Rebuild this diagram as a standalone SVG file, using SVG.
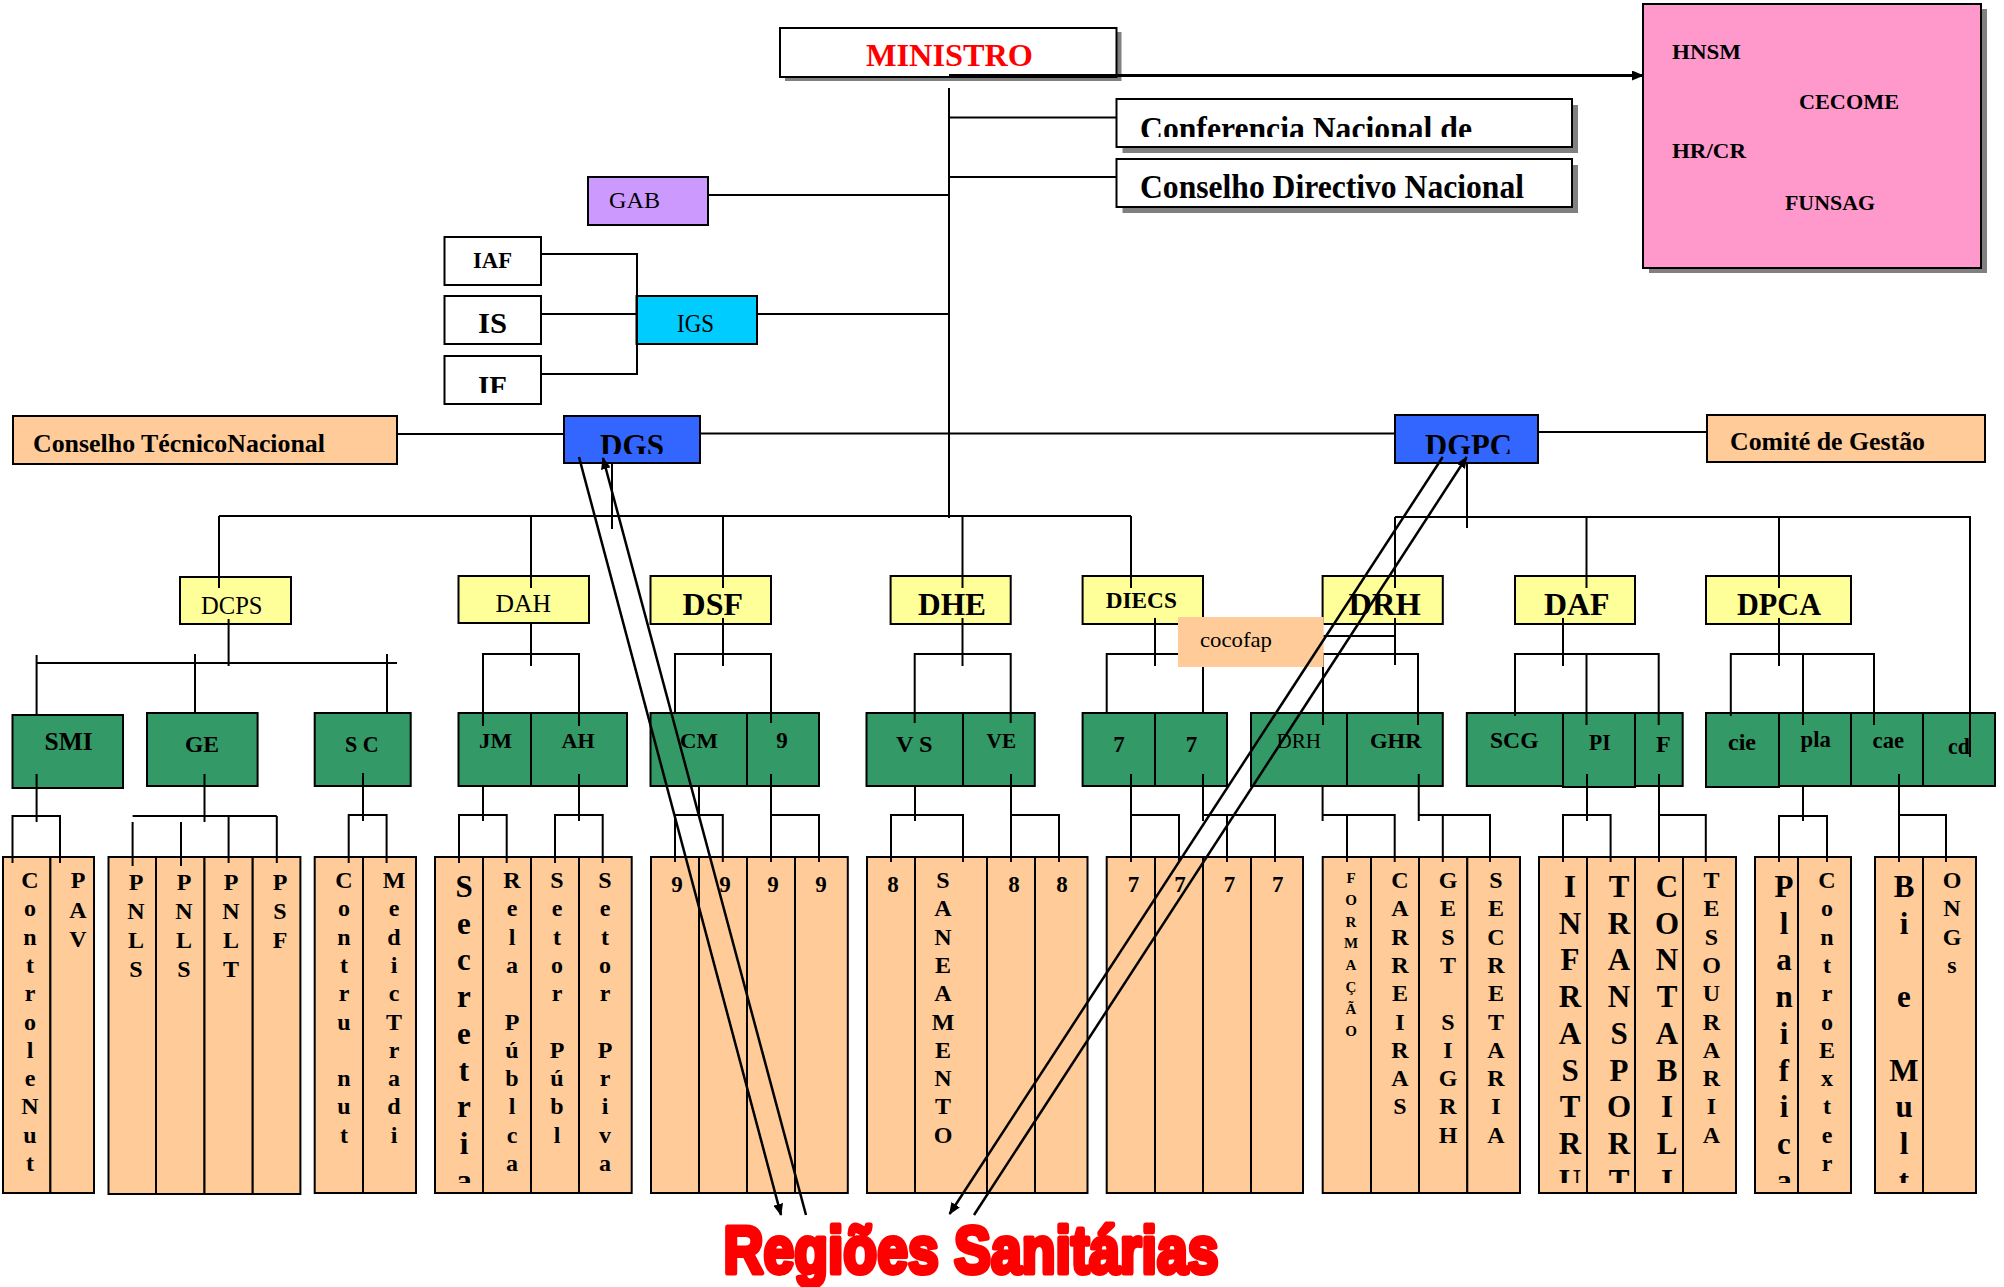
<svg xmlns="http://www.w3.org/2000/svg" width="2004" height="1287" viewBox="0 0 2004 1287">
<style>
.b{stroke:#000;stroke-width:2}
.w{fill:#fff}.y{fill:#FFFF99}.g{fill:#339966}.o{fill:#FFCC99}.bl{fill:#3366FF}
.sh{fill:#808080}
.ln{stroke:#000;stroke-width:2;fill:none}
.ar{stroke:#000;stroke-width:2.5;fill:none}
text{font-family:"Liberation Serif","Times New Roman",serif;font-weight:bold;fill:#000}
.n{font-weight:normal}
.v{font-size:24px;text-anchor:middle}
.vb{font-size:31px;text-anchor:middle}
.vs{font-size:15px;text-anchor:middle}
.d{font-size:23px;text-anchor:middle}
</style>
<defs>
<marker id="ah" markerWidth="12" markerHeight="10" refX="11" refY="5" orient="auto" markerUnits="userSpaceOnUse"><path d="M0,0 L12,5 L0,10 z" fill="#000"/></marker>
<clipPath id="cc"><rect x="0" y="857" width="2004" height="326"/></clipPath>
<clipPath id="cconf"><rect x="1116" y="99" width="460" height="38"/></clipPath>
<clipPath id="ctop"><rect x="500" y="380" width="1100" height="74"/></clipPath>
<clipPath id="cif"><rect x="440" y="356" width="110" height="37"/></clipPath>
</defs>

<g id="ministro"><rect class="sh" x="785" y="32" width="336.5" height="49"/><rect class="b w" x="780" y="28" width="336.5" height="49"/><text x="866" y="66" font-size="32" fill="#FF0000" style="fill:#FF0000" textLength="167" lengthAdjust="spacingAndGlyphs">MINISTRO</text></g>
<g id="conferencia"><rect class="sh" x="1122.5" y="105" width="455.5" height="48"/><rect class="b w" x="1116.5" y="99" width="455.5" height="48"/><text x="1140" y="139.5" font-size="33" clip-path="url(#cconf)" textLength="332" lengthAdjust="spacingAndGlyphs">Conferencia  Nacional de</text></g>
<g id="conselho-directivo"><rect class="sh" x="1122.5" y="165" width="455.5" height="48"/><rect class="b w" x="1116.5" y="159" width="455.5" height="48"/><text x="1140" y="198" font-size="33" textLength="384" lengthAdjust="spacingAndGlyphs">Conselho Directivo Nacional</text></g>
<g id="hospitais"><rect class="sh" x="1649" y="9" width="338" height="264"/><rect class="b" fill="#FF99CC" x="1643" y="4" width="338" height="264"/><text x="1672" y="59" font-size="22" textLength="69" lengthAdjust="spacingAndGlyphs">HNSM</text><text x="1799" y="109" font-size="22" textLength="100" lengthAdjust="spacingAndGlyphs">CECOME</text><text x="1672" y="158" font-size="22" textLength="74" lengthAdjust="spacingAndGlyphs">HR/CR</text><text x="1785" y="210" font-size="22" textLength="90" lengthAdjust="spacingAndGlyphs">FUNSAG</text></g>
<g id="gab"><rect class="b" fill="#CC99FF" x="588" y="177" width="120" height="48"/><text class="n" x="609" y="208" font-size="23" textLength="51" lengthAdjust="spacingAndGlyphs">GAB</text></g>
<g id="iaf"><rect class="b w" x="444.5" y="237" width="96.5" height="48"/><text x="473" y="268" font-size="24" textLength="39" lengthAdjust="spacingAndGlyphs">IAF</text></g>
<g id="is"><rect class="b w" x="444.5" y="296" width="96.5" height="48"/><text x="478" y="333" font-size="30" textLength="29" lengthAdjust="spacingAndGlyphs">IS</text></g>
<g id="if"><rect class="b w" x="444.5" y="356" width="96.5" height="48"/><text x="478" y="396" font-size="30" clip-path="url(#cif)" textLength="29" lengthAdjust="spacingAndGlyphs">IF</text></g>
<g id="igs"><rect class="b" fill="#00CCFF" x="636.5" y="296" width="120.5" height="48"/><text class="n" x="677" y="332" font-size="26" textLength="37" lengthAdjust="spacingAndGlyphs">IGS</text></g>
<g id="conselho-tecnico"><rect class="b o" x="13" y="416" width="384" height="48"/><text x="33" y="452" font-size="26" textLength="292" lengthAdjust="spacingAndGlyphs">Conselho TécnicoNacional</text></g>
<g id="dgs"><rect class="b bl" x="564" y="416" width="136" height="47"/><text x="600" y="456" font-size="32" clip-path="url(#ctop)" textLength="64" lengthAdjust="spacingAndGlyphs">DGS</text></g>
<g id="dgpc"><rect class="b bl" x="1395" y="415" width="143" height="48"/><text x="1425" y="456" font-size="32" clip-path="url(#ctop)" textLength="87" lengthAdjust="spacingAndGlyphs">DGPC</text></g>
<g id="comite"><rect class="b o" x="1707" y="415" width="278" height="47"/><text x="1730" y="450" font-size="26" textLength="195" lengthAdjust="spacingAndGlyphs">Comité  de Gestão</text></g>

<g id="dcps"><rect class="b y" x="180" y="577" width="111" height="47"/><text class="n" x="201" y="614" font-size="25" textLength="61.5" lengthAdjust="spacingAndGlyphs">DCPS</text></g>
<g id="dah"><rect class="b y" x="458.5" y="576" width="130.5" height="47"/><text class="n" x="495.5" y="612" font-size="25" textLength="55.5" lengthAdjust="spacingAndGlyphs">DAH</text></g>
<g id="dsf"><rect class="b y" x="650.5" y="576" width="120.5" height="48"/><text x="682.6" y="615" font-size="32" textLength="60.4" lengthAdjust="spacingAndGlyphs">DSF</text></g>
<g id="dhe"><rect class="b y" x="890.6" y="576" width="120.1" height="48"/><text x="918" y="615" font-size="32" textLength="68" lengthAdjust="spacingAndGlyphs">DHE</text></g>
<g id="diecs"><rect class="b y" x="1082.6" y="576" width="120.4" height="48"/><text x="1105.8" y="608" font-size="24" textLength="71" lengthAdjust="spacingAndGlyphs">DIECS</text></g>
<g id="drh"><rect class="b y" x="1322.6" y="576" width="120.2" height="48"/><text x="1348.6" y="615" font-size="32" textLength="72" lengthAdjust="spacingAndGlyphs">DRH</text></g>
<g id="daf"><rect class="b y" x="1515" y="576" width="120" height="48"/><text x="1544" y="615" font-size="32" textLength="65.6" lengthAdjust="spacingAndGlyphs">DAF</text></g>
<g id="dpca"><rect class="b y" x="1706" y="576" width="145" height="48"/><text x="1737" y="615" font-size="32" textLength="84" lengthAdjust="spacingAndGlyphs">DPCA</text></g>

<g id="smi"><rect class="b g" x="12.5" y="715" width="110.5" height="73"/><text x="44.6" y="750" font-size="25" textLength="48" lengthAdjust="spacingAndGlyphs">SMI</text></g>
<g id="ge"><rect class="b g" x="147" y="713" width="110.6" height="73"/><text x="185" y="752" font-size="24" textLength="34" lengthAdjust="spacingAndGlyphs">GE</text></g>
<g id="sc"><rect class="b g" x="314.7" y="713" width="96" height="73"/><text x="345" y="752" font-size="24" textLength="33.6" lengthAdjust="spacingAndGlyphs">S C</text></g>
<g id="jm"><rect class="b g" x="458.5" y="713" width="72.5" height="73"/><text x="479" y="748" font-size="22" textLength="33" lengthAdjust="spacingAndGlyphs">JM</text></g>
<g id="ah-g"><rect class="b g" x="531" y="713" width="96" height="73"/><text x="561.6" y="748" font-size="22" textLength="33" lengthAdjust="spacingAndGlyphs">AH</text></g>
<g id="cm"><rect class="b g" x="650.5" y="713" width="96.5" height="73"/><text x="680" y="748" font-size="22" textLength="38" lengthAdjust="spacingAndGlyphs">CM</text></g>
<g id="g9"><rect class="b g" x="747" y="713" width="72" height="73"/><text class="d" x="782" y="748">9</text></g>
<g id="vs"><rect class="b g" x="866.5" y="713" width="96.5" height="73"/><text x="896" y="752" font-size="24" textLength="36.6" lengthAdjust="spacingAndGlyphs">V S</text></g>
<g id="ve"><rect class="b g" x="963" y="713" width="71.8" height="73"/><text x="986.6" y="748" font-size="22" textLength="29.4" lengthAdjust="spacingAndGlyphs">VE</text></g>
<g id="g7a"><rect class="b g" x="1082.6" y="713" width="72.4" height="73"/><text class="d" x="1119" y="752" font-size="24">7</text></g>
<g id="g7b"><rect class="b g" x="1155" y="713" width="72" height="73"/><text class="d" x="1191.5" y="752" font-size="24">7</text></g>
<g id="drh-g"><rect class="b g" x="1251" y="713" width="96" height="73"/><text class="n" x="1276.4" y="748" font-size="22" textLength="44.6" lengthAdjust="spacingAndGlyphs">DRH</text></g>
<g id="ghr"><rect class="b g" x="1347" y="713" width="95.8" height="73"/><text x="1370" y="748" font-size="22" textLength="51.6" lengthAdjust="spacingAndGlyphs">GHR</text></g>
<g id="scg"><rect class="b g" x="1466.8" y="713" width="96.2" height="73"/><text x="1490" y="748" font-size="23" textLength="48.5" lengthAdjust="spacingAndGlyphs">SCG</text></g>
<g id="pi"><rect class="b g" x="1563" y="713" width="72" height="74"/><text x="1589" y="750" font-size="24" textLength="21.6" lengthAdjust="spacingAndGlyphs">PI</text></g>
<g id="f"><rect class="b g" x="1635" y="713" width="47.7" height="73"/><text x="1656" y="752" font-size="24" textLength="14.7" lengthAdjust="spacingAndGlyphs">F</text></g>
<g id="cie"><rect class="b g" x="1706" y="713" width="73" height="74"/><text x="1728" y="750" font-size="24" textLength="28" lengthAdjust="spacingAndGlyphs">cie</text></g>
<g id="pla"><rect class="b g" x="1779" y="713" width="72" height="73"/><text x="1800.5" y="747" font-size="23" textLength="30.3" lengthAdjust="spacingAndGlyphs">pla</text></g>
<g id="cae"><rect class="b g" x="1851" y="713" width="72" height="73"/><text x="1872.6" y="748" font-size="23" textLength="31.4" lengthAdjust="spacingAndGlyphs">cae</text></g>
<g id="cd"><rect class="b g" x="1923" y="713" width="72" height="73"/><text x="1948" y="754" font-size="24" textLength="21.7" lengthAdjust="spacingAndGlyphs">cd</text></g>

<g id="col-controle"><rect class="b o" x="3" y="857" width="47.4" height="336"/><text class="v" clip-path="url(#cc)"><tspan x="30" y="888">C</tspan><tspan x="30" y="916.3">o</tspan><tspan x="30" y="944.6">n</tspan><tspan x="30" y="972.9">t</tspan><tspan x="30" y="1001.2">r</tspan><tspan x="30" y="1029.5">o</tspan><tspan x="30" y="1057.8">l</tspan><tspan x="30" y="1086.1">e</tspan><tspan x="30" y="1114.4">N</tspan><tspan x="30" y="1142.7">u</tspan><tspan x="30" y="1171">t</tspan></text></g>
<g id="col-pav"><rect class="b o" x="50.4" y="857" width="43.6" height="336"/><text class="v"><tspan x="78" y="888">P</tspan><tspan x="78" y="917.5">A</tspan><tspan x="78" y="947">V</tspan></text></g>
<g id="col-pnls1"><rect class="b o" x="108.5" y="857" width="47.5" height="337"/><text class="v"><tspan x="136" y="890">P</tspan><tspan x="136" y="919">N</tspan><tspan x="136" y="948">L</tspan><tspan x="136" y="977">S</tspan></text></g>
<g id="col-pnls2"><rect class="b o" x="156" y="857" width="48.5" height="337"/><text class="v"><tspan x="184" y="890">P</tspan><tspan x="184" y="919">N</tspan><tspan x="184" y="948">L</tspan><tspan x="184" y="977">S</tspan></text></g>
<g id="col-pnlt"><rect class="b o" x="204.5" y="857" width="48.2" height="337"/><text class="v"><tspan x="231" y="890">P</tspan><tspan x="231" y="919">N</tspan><tspan x="231" y="948">L</tspan><tspan x="231" y="977">T</tspan></text></g>
<g id="col-psf"><rect class="b o" x="252.7" y="857" width="47.7" height="337"/><text class="v"><tspan x="280" y="890">P</tspan><tspan x="280" y="919">S</tspan><tspan x="280" y="948">F</tspan></text></g>
<g id="col-contru"><rect class="b o" x="314.7" y="857" width="48.3" height="336"/><text class="v"><tspan x="344" y="888">C</tspan><tspan x="344" y="916.3">o</tspan><tspan x="344" y="944.6">n</tspan><tspan x="344" y="972.9">t</tspan><tspan x="344" y="1001.2">r</tspan><tspan x="344" y="1029.5">u</tspan><tspan x="344" y="1086.1">n</tspan><tspan x="344" y="1114.4">u</tspan><tspan x="344" y="1142.7">t</tspan></text></g>
<g id="col-medic"><rect class="b o" x="363" y="857" width="53" height="336"/><text class="v"><tspan x="394" y="888">M</tspan><tspan x="394" y="916.3">e</tspan><tspan x="394" y="944.6">d</tspan><tspan x="394" y="972.9">i</tspan><tspan x="394" y="1001.2">c</tspan><tspan x="394" y="1029.5">T</tspan><tspan x="394" y="1057.8">r</tspan><tspan x="394" y="1086.1">a</tspan><tspan x="394" y="1114.4">d</tspan><tspan x="394" y="1142.7">i</tspan></text></g>
<g id="col-secretria"><rect class="b o" x="435" y="857" width="48" height="336"/><text class="vb" clip-path="url(#cc)"><tspan x="464" y="897">S</tspan><tspan x="464" y="933.7">e</tspan><tspan x="464" y="970.4">c</tspan><tspan x="464" y="1007.1">r</tspan><tspan x="464" y="1043.8">e</tspan><tspan x="464" y="1080.5">t</tspan><tspan x="464" y="1117.2">r</tspan><tspan x="464" y="1153.9">i</tspan><tspan x="464" y="1190.6">a</tspan></text></g>
<g id="col-rela"><rect class="b o" x="483" y="857" width="48" height="336"/><text class="v"><tspan x="512" y="888">R</tspan><tspan x="512" y="916.3">e</tspan><tspan x="512" y="944.6">l</tspan><tspan x="512" y="972.9">a</tspan><tspan x="512" y="1029.5">P</tspan><tspan x="512" y="1057.8">ú</tspan><tspan x="512" y="1086.1">b</tspan><tspan x="512" y="1114.4">l</tspan><tspan x="512" y="1142.7">c</tspan><tspan x="512" y="1171">a</tspan></text></g>
<g id="col-setor-publ"><rect class="b o" x="531" y="857" width="48" height="336"/><text class="v"><tspan x="557" y="888">S</tspan><tspan x="557" y="916.3">e</tspan><tspan x="557" y="944.6">t</tspan><tspan x="557" y="972.9">o</tspan><tspan x="557" y="1001.2">r</tspan><tspan x="557" y="1057.8">P</tspan><tspan x="557" y="1086.1">ú</tspan><tspan x="557" y="1114.4">b</tspan><tspan x="557" y="1142.7">l</tspan></text></g>
<g id="col-setor-priva"><rect class="b o" x="579" y="857" width="52.7" height="336"/><text class="v"><tspan x="605" y="888">S</tspan><tspan x="605" y="916.3">e</tspan><tspan x="605" y="944.6">t</tspan><tspan x="605" y="972.9">o</tspan><tspan x="605" y="1001.2">r</tspan><tspan x="605" y="1057.8">P</tspan><tspan x="605" y="1086.1">r</tspan><tspan x="605" y="1114.4">i</tspan><tspan x="605" y="1142.7">v</tspan><tspan x="605" y="1171">a</tspan></text></g>
<g id="col-9a"><rect class="b o" x="651" y="857" width="48" height="336"/><text class="d" x="677" y="892">9</text></g>
<g id="col-9b"><rect class="b o" x="699" y="857" width="48" height="336"/><text class="d" x="725" y="892">9</text></g>
<g id="col-9c"><rect class="b o" x="747" y="857" width="48" height="336"/><text class="d" x="773" y="892">9</text></g>
<g id="col-9d"><rect class="b o" x="795" y="857" width="52.8" height="336"/><text class="d" x="821" y="892">9</text></g>
<g id="col-8a"><rect class="b o" x="867" y="857" width="48" height="336"/><text class="d" x="893" y="892">8</text></g>
<g id="col-saneamento"><rect class="b o" x="915" y="857" width="72" height="336"/><text class="v"><tspan x="943" y="888">S</tspan><tspan x="943" y="916.3">A</tspan><tspan x="943" y="944.6">N</tspan><tspan x="943" y="972.9">E</tspan><tspan x="943" y="1001.2">A</tspan><tspan x="943" y="1029.5">M</tspan><tspan x="943" y="1057.8">E</tspan><tspan x="943" y="1086.1">N</tspan><tspan x="943" y="1114.4">T</tspan><tspan x="943" y="1142.7">O</tspan></text></g>
<g id="col-8b"><rect class="b o" x="987" y="857" width="48" height="336"/><text class="d" x="1014" y="892">8</text></g>
<g id="col-8c"><rect class="b o" x="1035" y="857" width="52.5" height="336"/><text class="d" x="1062" y="892">8</text></g>
<g id="col-7a"><rect class="b o" x="1106.7" y="857" width="48.3" height="336"/><text class="d" x="1133.5" y="892">7</text></g>
<g id="col-7b"><rect class="b o" x="1155" y="857" width="48" height="336"/><text class="d" x="1180" y="892">7</text></g>
<g id="col-7c"><rect class="b o" x="1203" y="857" width="48" height="336"/><text class="d" x="1229.5" y="892">7</text></g>
<g id="col-7d"><rect class="b o" x="1251" y="857" width="52" height="336"/><text class="d" x="1277.7" y="892">7</text></g>
<g id="col-formacao"><rect class="b o" x="1322.7" y="857" width="48.3" height="336"/><text class="vs"><tspan x="1351" y="883">F</tspan><tspan x="1351" y="904.8">O</tspan><tspan x="1351" y="926.6">R</tspan><tspan x="1351" y="948.4">M</tspan><tspan x="1351" y="970.2">A</tspan><tspan x="1351" y="992">Ç</tspan><tspan x="1351" y="1013.8">Ã</tspan><tspan x="1351" y="1035.6">O</tspan></text></g>
<g id="col-carreiras"><rect class="b o" x="1371" y="857" width="48" height="336"/><text class="v"><tspan x="1400" y="888">C</tspan><tspan x="1400" y="916.3">A</tspan><tspan x="1400" y="944.6">R</tspan><tspan x="1400" y="972.9">R</tspan><tspan x="1400" y="1001.2">E</tspan><tspan x="1400" y="1029.5">I</tspan><tspan x="1400" y="1057.8">R</tspan><tspan x="1400" y="1086.1">A</tspan><tspan x="1400" y="1114.4">S</tspan></text></g>
<g id="col-sigrh"><rect class="b o" x="1419" y="857" width="48.3" height="336"/><text class="v"><tspan x="1448" y="888">G</tspan><tspan x="1448" y="916.3">E</tspan><tspan x="1448" y="944.6">S</tspan><tspan x="1448" y="972.9">T</tspan><tspan x="1448" y="1029.5">S</tspan><tspan x="1448" y="1057.8">I</tspan><tspan x="1448" y="1086.1">G</tspan><tspan x="1448" y="1114.4">R</tspan><tspan x="1448" y="1142.7">H</tspan></text></g>
<g id="col-secretaria"><rect class="b o" x="1467.3" y="857" width="52.7" height="336"/><text class="v"><tspan x="1496" y="888">S</tspan><tspan x="1496" y="916.3">E</tspan><tspan x="1496" y="944.6">C</tspan><tspan x="1496" y="972.9">R</tspan><tspan x="1496" y="1001.2">E</tspan><tspan x="1496" y="1029.5">T</tspan><tspan x="1496" y="1057.8">A</tspan><tspan x="1496" y="1086.1">R</tspan><tspan x="1496" y="1114.4">I</tspan><tspan x="1496" y="1142.7">A</tspan></text></g>
<g id="col-infra"><rect class="b o" x="1539" y="857" width="48" height="336"/><text class="vb" clip-path="url(#cc)"><tspan x="1570" y="897">I</tspan><tspan x="1570" y="933.7">N</tspan><tspan x="1570" y="970.4">F</tspan><tspan x="1570" y="1007.1">R</tspan><tspan x="1570" y="1043.8">A</tspan><tspan x="1570" y="1080.5">S</tspan><tspan x="1570" y="1117.2">T</tspan><tspan x="1570" y="1153.9">R</tspan><tspan x="1570" y="1190.6">U</tspan></text></g>
<g id="col-transport"><rect class="b o" x="1587" y="857" width="48" height="336"/><text class="vb" clip-path="url(#cc)"><tspan x="1619" y="897">T</tspan><tspan x="1619" y="933.7">R</tspan><tspan x="1619" y="970.4">A</tspan><tspan x="1619" y="1007.1">N</tspan><tspan x="1619" y="1043.8">S</tspan><tspan x="1619" y="1080.5">P</tspan><tspan x="1619" y="1117.2">O</tspan><tspan x="1619" y="1153.9">R</tspan><tspan x="1619" y="1190.6">T</tspan></text></g>
<g id="col-contabil"><rect class="b o" x="1635" y="857" width="48" height="336"/><text class="vb" clip-path="url(#cc)"><tspan x="1667" y="897">C</tspan><tspan x="1667" y="933.7">O</tspan><tspan x="1667" y="970.4">N</tspan><tspan x="1667" y="1007.1">T</tspan><tspan x="1667" y="1043.8">A</tspan><tspan x="1667" y="1080.5">B</tspan><tspan x="1667" y="1117.2">I</tspan><tspan x="1667" y="1153.9">L</tspan><tspan x="1667" y="1190.6">I</tspan></text></g>
<g id="col-tesouraria"><rect class="b o" x="1683" y="857" width="53" height="336"/><text class="v"><tspan x="1711.5" y="888">T</tspan><tspan x="1711.5" y="916.3">E</tspan><tspan x="1711.5" y="944.6">S</tspan><tspan x="1711.5" y="972.9">O</tspan><tspan x="1711.5" y="1001.2">U</tspan><tspan x="1711.5" y="1029.5">R</tspan><tspan x="1711.5" y="1057.8">A</tspan><tspan x="1711.5" y="1086.1">R</tspan><tspan x="1711.5" y="1114.4">I</tspan><tspan x="1711.5" y="1142.7">A</tspan></text></g>
<g id="col-planifica"><rect class="b o" x="1755" y="857" width="43" height="336"/><text class="vb" clip-path="url(#cc)"><tspan x="1784" y="897">P</tspan><tspan x="1784" y="933.7">l</tspan><tspan x="1784" y="970.4">a</tspan><tspan x="1784" y="1007.1">n</tspan><tspan x="1784" y="1043.8">i</tspan><tspan x="1784" y="1080.5">f</tspan><tspan x="1784" y="1117.2">i</tspan><tspan x="1784" y="1153.9">c</tspan><tspan x="1784" y="1190.6">a</tspan></text></g>
<g id="col-controexter"><rect class="b o" x="1798" y="857" width="53" height="336"/><text class="v"><tspan x="1827" y="888">C</tspan><tspan x="1827" y="916.3">o</tspan><tspan x="1827" y="944.6">n</tspan><tspan x="1827" y="972.9">t</tspan><tspan x="1827" y="1001.2">r</tspan><tspan x="1827" y="1029.5">o</tspan><tspan x="1827" y="1057.8">E</tspan><tspan x="1827" y="1086.1">x</tspan><tspan x="1827" y="1114.4">t</tspan><tspan x="1827" y="1142.7">e</tspan><tspan x="1827" y="1171">r</tspan></text></g>
<g id="col-bimult"><rect class="b o" x="1875" y="857" width="48" height="336"/><text class="vb" clip-path="url(#cc)"><tspan x="1904" y="897">B</tspan><tspan x="1904" y="933.7">i</tspan><tspan x="1904" y="1007.1">e</tspan><tspan x="1904" y="1080.5">M</tspan><tspan x="1904" y="1117.2">u</tspan><tspan x="1904" y="1153.9">l</tspan><tspan x="1904" y="1190.6">t</tspan></text></g>
<g id="col-ongs"><rect class="b o" x="1923" y="857" width="53" height="336"/><text class="v"><tspan x="1952" y="888">O</tspan><tspan x="1952" y="916.3">N</tspan><tspan x="1952" y="944.6">G</tspan><tspan x="1952" y="972.9">s</tspan></text></g>

<g id="connectors" class="ln">
<path d="M949,75.5 H1643" stroke-width="3" marker-end="url(#ah)"/>
<path d="M949,88 V518 M949,117.5 H1116.5 M949,177 H1116.5 M708,195 H949 M757,314 H949"/>
<path d="M541,254 H637 V374 H541 M541,314 H637"/>
<path d="M397,434 H564 M700,433.5 H1395 M1538,432 H1707"/>
<path d="M219,516 H1131 M219,516 V588 M531,516 V588 M723,516 V588 M962.5,516 V588 M1131,516 V588 M612,463 V529"/>
<path d="M1395,517 H1970 V757 M1395,517 V588 M1586.5,517 V588 M1779,517 V588 M1467,463 V528"/>
<path d="M228.6,619 V666 M36.6,663 H397 M36.6,655 V715 M195,654 V713 M387,654 V713"/>
<path d="M531,624 V666 M483,726 V654 H579 V726"/>
<path d="M723,618 V666 M675,713 V654 H771 V723"/>
<path d="M962.5,618 V666 M914.7,723 V654 H1010.7 V723"/>
<path d="M1155,618 V666 M1106.7,713 V654 H1203 V713"/>
<path d="M1395,618 V665 M1323,725 V654 H1418 V725 M1323,636 H1395"/>
<path d="M1563,618 V666 M1515,716 V654 H1658.7 V725 M1586.5,654 V725"/>
<path d="M1779,618 V666 M1730.8,716 V654 H1874 V725 M1803,654 V725"/>
<path d="M36.6,774 V822 M12.5,863 V816 H60 V863"/>
<path d="M204.5,774 V822 M132.6,816 H276.8 M132.6,822 V866 M181,822 V866 M228.6,816 V863 M276.8,816 V863"/>
<path d="M363,773 V821 M348.7,863 V815 H386.6 V863"/>
<path d="M483,786 V821 M459,863 V815 H506.7 V863"/>
<path d="M579,774 V821 M555,863 V815 H602.7 V863"/>
<path d="M699,786 V815 M675,862 V815 H722.8 V862"/>
<path d="M771,774 V862 M771,815 H819 V862"/>
<path d="M915,786 V821 M891,862 V815 H963 V862"/>
<path d="M1011,774 V862 M1011,815 H1059 V862"/>
<path d="M1131,774 V862 M1131,815 H1179 V862"/>
<path d="M1203,774 V821 M1203,815 H1275 V862 M1227,815 V862"/>
<path d="M1322.6,786 V821 M1322.6,815 H1394.7 V862 M1347,815 V862"/>
<path d="M1418.75,774 V821 M1418.75,815 H1490 V862 M1442.8,815 V862"/>
<path d="M1587,774 V821 M1563,862 V815 H1610.6 V862"/>
<path d="M1659,774 V862 M1659,815 H1705.8 V862"/>
<path d="M1803,786 V821 M1779,862 V816 H1827 V862"/>
<path d="M1899,774 V862 M1899,815 H1946 V862"/>
</g>

<g id="cocofap"><rect fill="#FFCC99" x="1178" y="617" width="145.7" height="50"/><text class="n" x="1200" y="647" font-size="22" textLength="72" lengthAdjust="spacingAndGlyphs">cocofap</text></g>

<g id="arrows" class="ar">
<path d="M579,457 L781,1215" marker-end="url(#ah)"/>
<path d="M806,1215 L603,458" marker-end="url(#ah)"/>
<path d="M1442.7,457 L949.6,1214" marker-end="url(#ah)"/>
<path d="M974,1215 L1466.7,457" marker-end="url(#ah)"/>
</g>

<g id="regioes"><text x="723.5" y="1273" font-size="67" style="font-family:'Liberation Sans',Arial,sans-serif;font-weight:bold;fill:#FF0000;stroke:#FF0000;stroke-width:5;stroke-linejoin:round" textLength="495" lengthAdjust="spacingAndGlyphs">Regiões Sanitárias</text></g>
</svg>
